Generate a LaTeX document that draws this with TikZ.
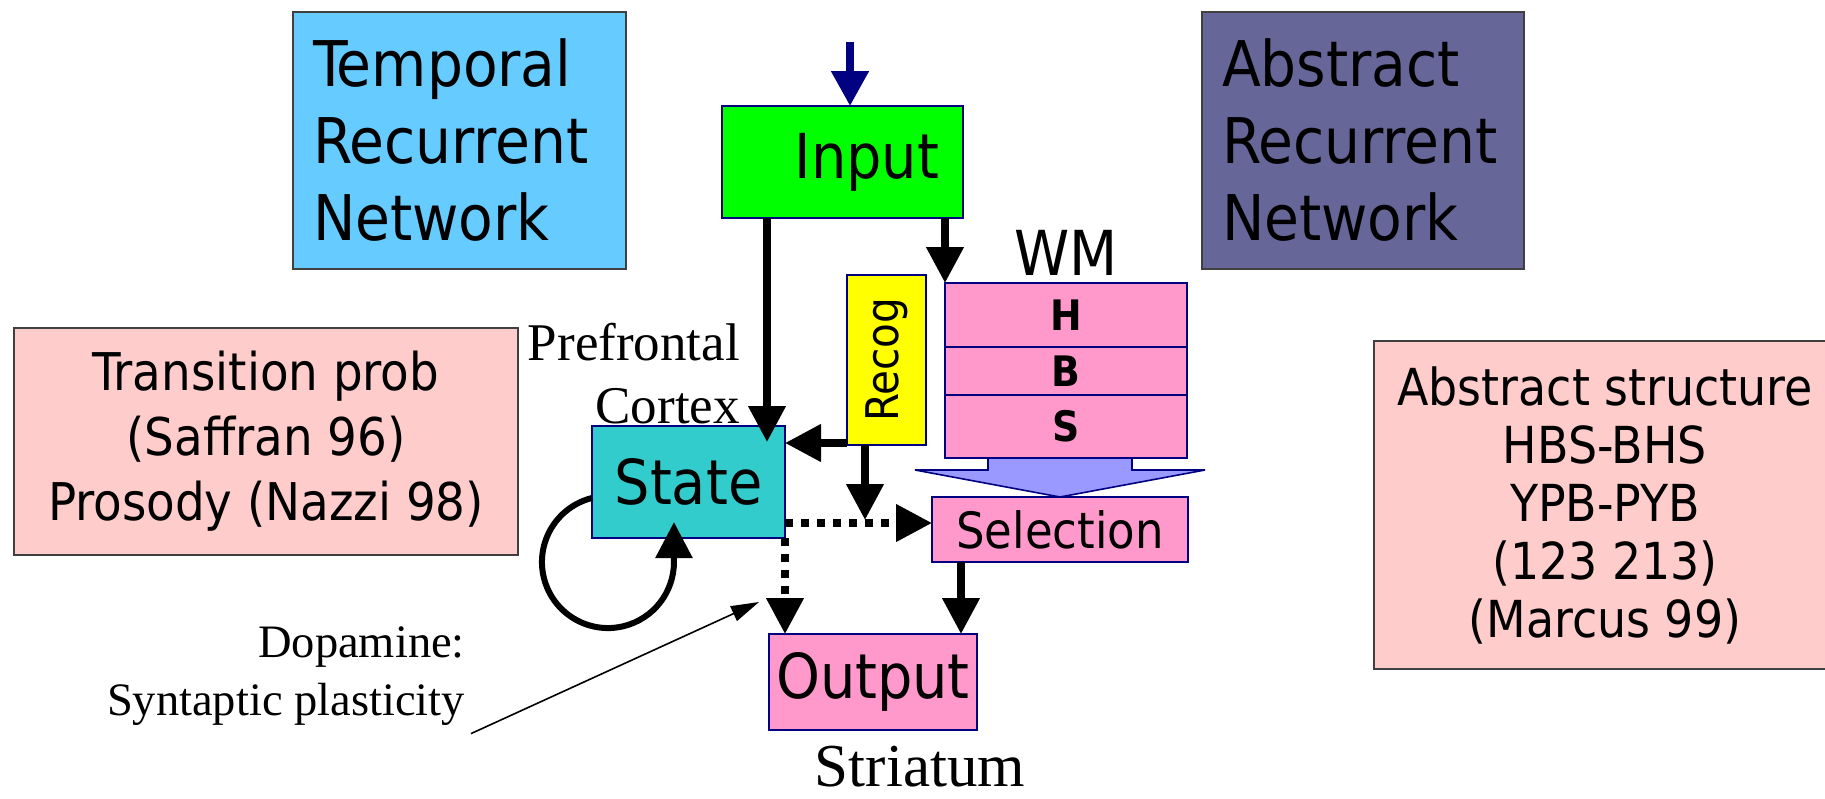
\documentclass[tikz,border=0pt]{standalone}
\usepackage{fontspec}
\setmainfont{DejaVu Sans Condensed}
\newfontfamily\timesfont{Liberation Serif}
\usetikzlibrary{arrows.meta,calc}

\definecolor{tempblue}{HTML}{66CCFF}
\definecolor{abstractblue}{HTML}{666699}
\definecolor{inputgreen}{HTML}{00FF00}
\definecolor{statecyan}{HTML}{33CCCC}
\definecolor{recogyellow}{HTML}{FFFF00}
\definecolor{basalpink}{HTML}{FF99CC}
\definecolor{notepink}{HTML}{FFCCCC}
\definecolor{wmflow}{HTML}{9999FF}
\definecolor{edgenavy}{HTML}{000080}

\begin{document}
\begin{tikzpicture}
[x=1pt, y=-1pt,
 unit/.style={draw=edgenavy, line width=1.6pt, inner sep=0pt, outer sep=0pt},
 netbox/.style={draw=black!75, line width=1.2pt, inner sep=0pt, outer sep=0pt},
 big/.style={font=\fontsize{62}{74}\selectfont},
 thick arrow/.style={line width=7.5pt, -{Triangle[width=36pt,length=36pt]}},
 dotted arrow/.style={thick arrow, dash pattern=on 8pt off 8pt}
]
\useasboundingbox (0,0) rectangle (1825,798);

% the two networks
\node[netbox, fill=tempblue, minimum width=333pt, minimum height=257pt, text width=293pt, inner xsep=20pt, align=left, font=\fontsize{63}{77}\selectfont] (temporal) at (459.5,140.5) {Temporal\\Recurrent\\Network};
\node[netbox, fill=abstractblue, minimum width=322pt, minimum height=257pt, text width=282pt, inner xsep=20pt, align=left, font=\fontsize{63}{77}\selectfont] (abstract) at (1363,140.5) {Abstract\\Recurrent\\Network};

% findings
\node[netbox, fill=notepink, minimum width=504pt, minimum height=227pt, align=center, font=\fontsize{52}{65}\selectfont] (transition) at (266,441.5) {Transition prob\\(Saffran 96)\\Prosody (Nazzi 98)};
\node[netbox, fill=notepink, minimum width=462pt, minimum height=328pt, align=center, font=\fontsize{51}{58}\selectfont] (structure) at (1605,505) {Abstract structure\\HBS-BHS\\YPB-PYB\\(123 213)\\(Marcus 99)};

% labels
\node[anchor=east, align=right, inner sep=0pt, font=\timesfont\fontsize{53}{63}\selectfont] (pfc) at (740,374) {Prefrontal\\Cortex};
\node[anchor=east, align=right, inner sep=0pt, font=\timesfont\fontsize{46.5}{58}\selectfont] (dopamine) at (465,676) {Dopamine:\\Syntaptic plasticity};
\node[inner sep=0pt, font=\timesfont\fontsize{61}{70}\selectfont] (striatum) at (920,767) {Striatum};

% model units
\node[unit, fill=inputgreen, minimum width=241pt, minimum height=112pt, text width=193pt, inner xsep=24pt, align=right, big] (input) at (842.5,162) {Input};
\node[unit, fill=statecyan, minimum width=193pt, minimum height=112pt, big] (state) at (688.5,482) {State};
\node[unit, fill=recogyellow, minimum width=79pt, minimum height=170pt, font=\fontsize{45}{50}\selectfont] (recog) at (886.5,360) {\rotatebox{90}{Recog}};
\node[unit, fill=basalpink, minimum width=242pt, minimum height=64pt, font=\bfseries\fontsize{42}{46}\selectfont] (wmh) at (1066,315) {H};
\node[unit, fill=basalpink, minimum width=242pt, minimum height=48pt, font=\bfseries\fontsize{42}{46}\selectfont, anchor=north] (wmb) at (wmh.south) {B};
\node[unit, fill=basalpink, minimum width=242pt, minimum height=63pt, font=\bfseries\fontsize{42}{46}\selectfont, anchor=north] (wms) at (wmb.south) {S};
\node[big, anchor=base, inner sep=0pt] (wm) at (1066,275) {WM};
\node[unit, fill=basalpink, minimum width=256pt, minimum height=65pt, font=\fontsize{50}{56}\selectfont] (selection) at (1060,529.5) {Selection};
\node[unit, fill=basalpink, minimum width=208pt, minimum height=96pt, big] (output) at (873,682) {Output};

% WM -> selection
\draw[unit, fill=wmflow] (selection.north) -- ++(-145,-27) -- ++(73,0) -- ++(0,-12) -- ++(144,0) -- ++(0,12) -- ++(73,0) -- cycle;

% connections
\coordinate (feed) at (850,42);
\draw[edgenavy, line width=8pt, -{Triangle[width=36pt,length=35pt]}] (feed) -- (feed |- input.north);
\draw[thick arrow] ([xshift=-75.5pt]input.south) coordinate (a) -- ($(a |- state.north)+(0,16)$);
\draw[thick arrow] (input.south -| wmh.north west) -- (wmh.north west);
\draw[thick arrow] ([yshift=2pt]recog.south west) coordinate (r) -- (r -| state.east);
\draw[dotted arrow] ([yshift=-41pt]state.east) coordinate (d) -- (d -| selection.west);
\draw[thick arrow] ([xshift=-21.5pt]recog.south) coordinate (rd) -- ($(rd |- d)+(0,-3)$);
\draw[dotted arrow] (state.south east) -- (state.south east |- output.north);
\draw[thick arrow] ([xshift=-99pt]selection.south) coordinate (s) -- (s |- output.north);
\draw[line width=6pt, -{Triangle[width=36pt,length=36pt]}] ([yshift=-16pt]state.west) arc (-104:-360:66) -- ++(0,-40);% loop back into the state

\coordinate (plasticity) at (759,602);
\draw[line width=1.6pt, -{Triangle[width=16pt,length=28pt]}] ([shift={(6pt,-8pt)}]dopamine.south east) -- (plasticity);

\end{tikzpicture}
\end{document}
